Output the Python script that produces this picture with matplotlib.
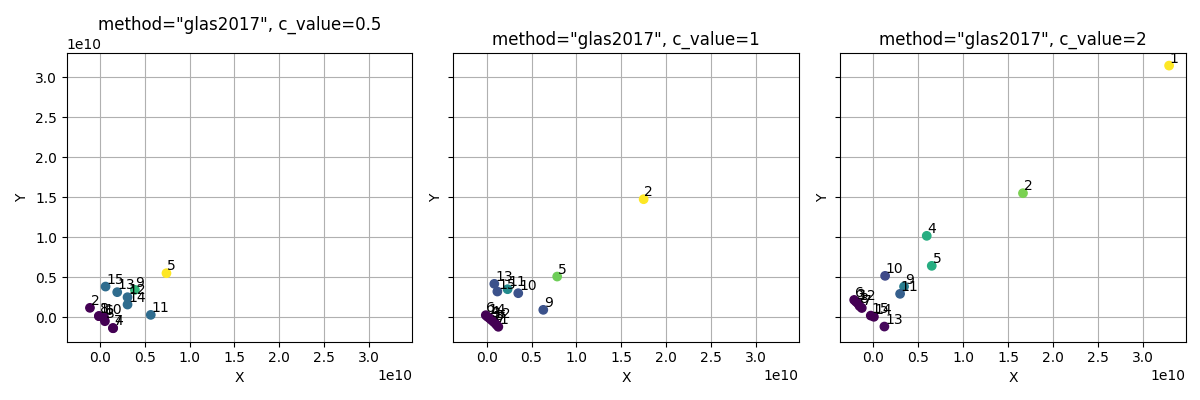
import matplotlib
matplotlib.use("Agg")
import matplotlib.pyplot as plt
import numpy as np

labels = list(range(1, 16))

# panel 1: c_value = 0.5   (units of 1e9)
x1 = [-0.10, -1.11, 0.56, 1.48, 7.42, 0.45, 1.45, -0.11, 3.90, 0.44, 5.67, 3.08, 1.93, 3.08, 0.63]
y1 = [0.15, 1.17, -0.50, -1.38, 5.50, -0.05, -1.35, 0.13, 3.42, 0.00, 0.29, 2.50, 3.13, 1.58, 3.83]
c1 = [0.0, 0.0, 0.0, 0.0, 1.0, 0.0, 0.0, 0.0, 0.66, 0.0, 0.35, 0.35, 0.35, 0.35, 0.35]

# panel 2: c_value = 1
x2 = [1.30, 17.50, 0.50, 0.35, 7.86, -0.10, 1.10, 0.90, 6.31, 3.52, 2.33, 0.70, 0.85, 0.10, 1.19]
y2 = [-1.20, 14.75, -0.30, -0.15, 5.08, 0.25, -0.95, -0.70, 0.92, 3.00, 3.50, -0.50, 4.17, 0.05, 3.21]
c2 = [0.0, 1.0, 0.0, 0.0, 0.78, 0.0, 0.0, 0.0, 0.25, 0.25, 0.48, 0.0, 0.25, 0.0, 0.25]

# panel 3: c_value = 2
x3 = [32.96, 16.67, -1.95, 5.94, 6.50, -2.15, -1.30, -1.55, 3.41, 1.30, 2.97, -1.75, 1.22, 0.05, -0.30]
y3 = [31.45, 15.50, 1.95, 10.17, 6.42, 2.16, 1.15, 1.40, 3.83, 5.17, 2.92, 1.75, -1.17, 0.05, 0.20]
c3 = [1.0, 0.8, 0.0, 0.62, 0.62, 0.0, 0.0, 0.0, 0.42, 0.22, 0.30, 0.0, 0.02, 0.0, 0.0]

c_values = ["0.5", "1", "2"]
panels = [(x1, y1, c1), (x2, y2, c2), (x3, y3, c3)]

fig, axes = plt.subplots(1, 3, figsize=(12, 4), dpi=100, sharex=True, sharey=True)
fig.subplots_adjust(left=0.0556, right=0.988, top=0.867, bottom=0.146, wspace=0.12)

for ax, (xs, ys, cs), cv in zip(axes, panels, c_values):
    xs = np.array(xs) * 1e9
    ys = np.array(ys) * 1e9
    ax.scatter(xs, ys, c=cs, cmap="viridis", vmin=0, vmax=1, zorder=2)
    for lab, xx, yy in zip(labels, xs, ys):
        ax.annotate(str(lab), (xx, yy), xytext=(0.5, 2), textcoords="offset points", zorder=3)
    ax.set_title(f'method="glas2017", c_value={cv}')
    ax.set_xlabel("X")
    ax.set_ylabel("Y")
    ax.grid(True)
    ax.set_axisbelow(True)

axes[0].set_xlim(-3.7e9, 34.8e9)
axes[0].set_ylim(-3.05e9, 33.0e9)

fig.savefig("out.png", dpi=100)
